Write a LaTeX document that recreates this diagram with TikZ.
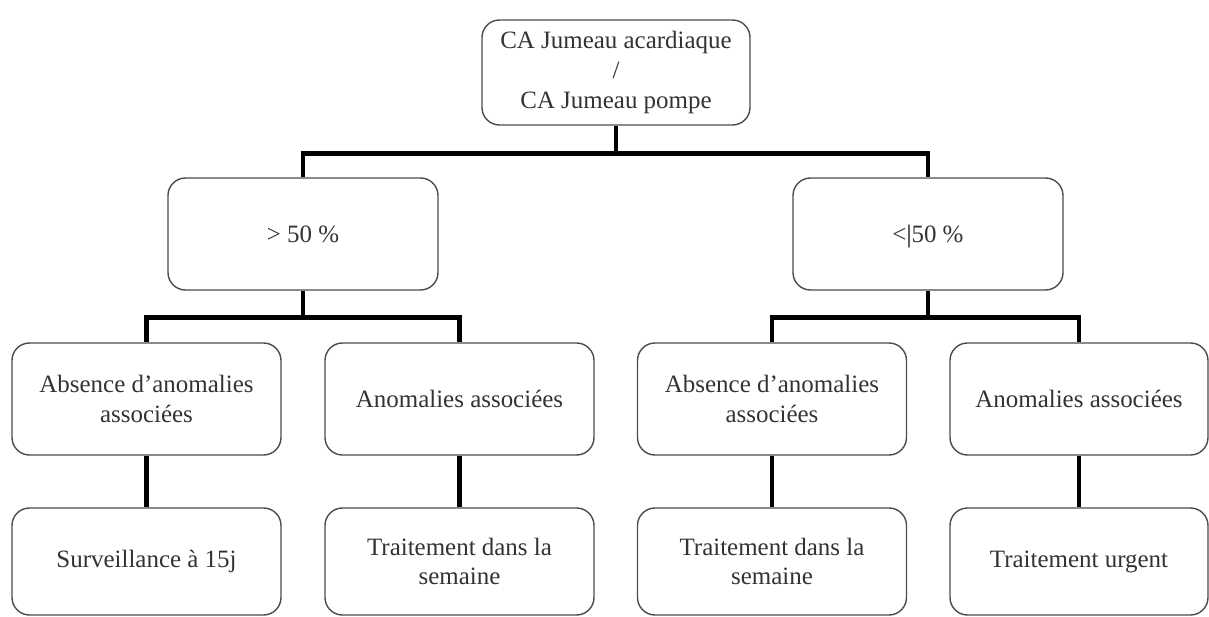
\documentclass[tikz,border=0pt]{standalone}
\usepackage{fontspec}
\setmainfont{Liberation Serif}
\tikzset{
  box/.style={draw=black!70, line width=0.8pt, rounded corners=0.35cm, align=center,
    text=black!80, font=\fontsize{14.2}{17}\selectfont, inner sep=2pt},
  link/.style={line width=2.6pt, line join=miter}
}
\begin{document}
\begin{tikzpicture}
    \useasboundingbox (0,0) rectangle (24.18,12.32);

    \node[box, minimum width=5.36cm, minimum height=2.1cm] (ca) at (12.32,10.87) {CA Jumeau acardiaque\\/\\CA Jumeau pompe};

    \node[box, minimum width=5.4cm, minimum height=2.24cm] (sup) at (6.06,7.64) {> 50 \%};
    \node[box, minimum width=5.4cm, minimum height=2.24cm] (inf) at (18.56,7.64) {<\smash{\textcolor{black}{|}}50 \%};

    \node[box, minimum width=5.38cm, minimum height=2.24cm] (supabs) at (2.93,4.34) {Absence d’anomalies\\associées};
    \node[box, minimum width=5.38cm, minimum height=2.24cm] (supano) at (9.19,4.34) {Anomalies associées};
    \node[box, minimum width=5.38cm, minimum height=2.24cm] (infabs) at (15.44,4.34) {Absence d’anomalies\\associées};
    \node[box, minimum width=5.16cm, minimum height=2.24cm] (infano) at (21.58,4.34) {Anomalies associées};

    \node[box, minimum width=5.38cm, minimum height=2.14cm] (surv) at (2.93,1.09) {Surveillance à 15j};
    \node[box, minimum width=5.38cm, minimum height=2.14cm] (supsem) at (9.19,1.09) {Traitement dans la\\semaine};
    \node[box, minimum width=5.38cm, minimum height=2.14cm] (infsem) at (15.44,1.09) {Traitement dans la\\semaine};
    \node[box, minimum width=5.16cm, minimum height=2.14cm] (urg) at (21.58,1.09) {Traitement urgent};

    \draw[link] (ca.south) -- ++(0,-0.56) -| (sup.north);
    \draw[link] (ca.south) ++(0,-0.56) -| (inf.north);

    \draw[link] (sup.south) -- ++(0,-0.54) -| (supabs.north);
    \draw[link] (sup.south) ++(0,-0.54) -| (supano.north);
    \draw[link] (inf.south) -- ++(0,-0.54) -| (infabs.north);
    \draw[link] (inf.south) ++(0,-0.54) -| (infano.north);

    \draw[link] (supabs) -- (surv);
    \draw[link] (supano) -- (supsem);
    \draw[link] (infabs) -- (infsem);
    \draw[link] (infano) -- (urg);

  \end{tikzpicture}
\end{document}
